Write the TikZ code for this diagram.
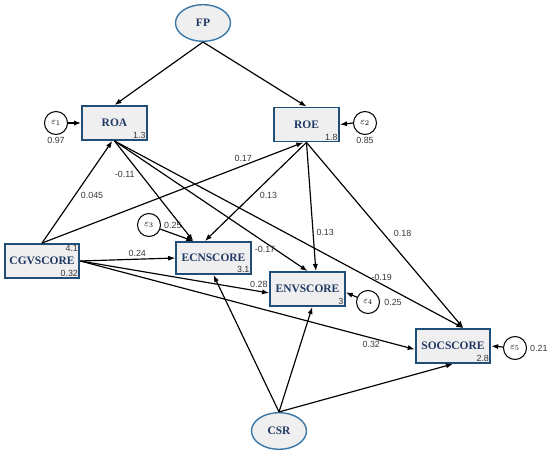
\documentclass[tikz,border=0pt]{standalone}
\usepackage{fontspec}
\setmainfont{Liberation Serif}
\newfontfamily\numfont{Liberation Sans}
\usepackage{xcolor}
\usepackage{tikz}
\usetikzlibrary{positioning, shapes, arrows.meta, calc}

\definecolor{boxblue}{HTML}{1F4E79}
\definecolor{ovalblue}{HTML}{3B78A8}
\definecolor{boxgray}{HTML}{EFEFEF}
\definecolor{textnavy}{HTML}{1F3864}
\definecolor{numgray}{HTML}{383838}

\begin{document}
\begin{tikzpicture}[x=0.03cm, y=-0.03cm, >={Latex[length=6pt,width=4.4pt]},
        var/.style={rectangle, draw=boxblue, line width=1.6pt, fill=boxgray, minimum width=2.24cm, minimum height=1.02cm, font=\fontsize{9.8}{10}\selectfont\bfseries, text=textnavy},
        latent/.style={ellipse, draw=ovalblue, line width=1.2pt, fill=boxgray, minimum width=1.65cm, minimum height=1.1cm, font=\fontsize{9.8}{10}\selectfont\bfseries, text=textnavy},
        err/.style={circle, draw, line width=0.9pt, fill=white, minimum size=0.69cm, inner sep=0pt, font=\fontsize{8}{8}\selectfont},
        coef/.style={font=\numfont\fontsize{7.6}{8}\selectfont, text=numgray, inner sep=1.5pt},
        link/.style={->, line width=1pt}]

        \useasboundingbox (0,0) rectangle (550,453);

        % latent variables
        \node[latent] (fp) at (203,23) {FP};
        \node[latent] (csr) at (279,431) {CSR};

        % observed variables
        \node[var, minimum width=1.95cm] (roa) at (114.5,123) {ROA};
        \node[var, minimum width=1.95cm] (roe) at (306.5,124.5) {ROE};
        \node[var] (cgv) at (42,261) {CGVSCORE};
        \node[var, minimum height=0.96cm] (ecn) at (213.5,258) {ECNSCORE};
        \node[var] (env) at (307.5,289) {ENVSCORE};
        \node[var] (soc) at (453,346) {SOCSCORE};

        % values in the boxes
        \node[coef, anchor=south east, inner sep=1.8pt] at (roa.south east) {1.3};
        \node[coef, anchor=south east, inner sep=1.8pt] at (roe.south east) {1.8};
        \node[coef, anchor=north east, inner sep=1.8pt] at (cgv.north east) {4.1};
        \node[coef, anchor=south east, inner sep=1.8pt] at (cgv.south east) {0.32};
        \node[coef, anchor=south east, inner sep=1.8pt] at (ecn.south east) {3.1};
        \node[coef, anchor=south east, inner sep=1.8pt] at (env.south east) {3};
        \node[coef, anchor=south east, inner sep=1.8pt] at (soc.south east) {2.8};

        % error terms
        \node[err] (e1) at (56,123) {$\varepsilon_1$};
        \node[err] (e2) at (365,123) {$\varepsilon_2$};
        \node[err] (e3) at (149,225) {$\varepsilon_3$};
        \node[err] (e4) at (368,302) {$\varepsilon_4$};
        \node[err] (e5) at (515,348) {$\varepsilon_5$};
        \node[coef, below=0pt of e1] {0.97};
        \node[coef, below=0pt of e2] {0.85};
        \node[coef, right=1pt of e3] {0.25};
        \node[coef, right=2pt of e4] {0.25};
        \node[coef, right=1pt of e5] {0.21};

        \draw[link] (e1.east) -- (roa.west);
        \draw[link] (e2.west) -- (roe.east);
        \draw[link] (e3) -- (ecn.140);
        \draw[link] (e4) -- (env.-5);
        \draw[link] (e5) -- (soc.east);

        % paths
        \draw[link] (fp.south) -- (roa.north);
        \draw[link] (fp.south) -- (roe.north);

        \draw[link] (cgv.north) -- (roa.-97) node[coef, pos=0.47, right=3pt] {0.045};
        \draw[link] (cgv.north) -- (roe.-100) node[coef, pos=0.77, above=1pt] {0.17};
        \draw[link] (cgv.east) -- (ecn.west) node[coef, pos=0.6, above=0pt] {0.24};
        \draw[link] (cgv.east) -- (env.186) node[coef, pos=0.945, above=1pt] {0.28};
        \draw[link] (cgv.east) -- (soc.185) node[coef, pos=0.87, below=1pt] {0.32};

        \draw[link] (roa.south) -- (ecn.140) node[coef, pos=0.33, left=3pt] {-0.11};
        \draw[link] (roa.south) -- (env.north) node[coef, pos=0.78, below=1pt] {-0.17};
        \draw[link] (roa.south) -- (soc.60) node[coef, pos=0.766, above=1pt] {-0.19};

        \draw[link] (roe.south) -- (ecn.117) node[coef, pos=0.54, right=5pt] {0.13};
        \draw[link] (roe.south) -- (env.65) node[coef, pos=0.7, right=1pt] {0.13};
        \draw[link] (roe.south) -- (soc.60) node[coef, pos=0.49, right=7pt] {0.18};

        \draw[link] (csr.north) -- (ecn.south);
        \draw[link] (csr.north) -- (env.-75);
        \draw[link] (csr.north) -- (soc.south);
      \end{tikzpicture}
\end{document}
